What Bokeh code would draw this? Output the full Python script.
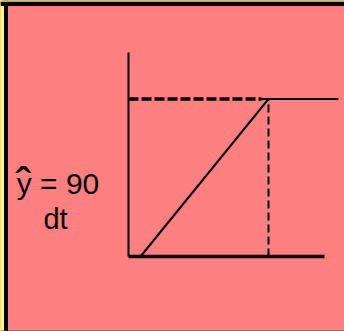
from bokeh.plotting import figure
from bokeh.models import Range1d, Span
from bokeh.core.properties import value
from bokeh.embed import file_html
from bokeh.resources import INLINE

# schematic values (time units, response units)
axis_t = [0.0, 19.6]          # horizontal axis extent
axis_v = [0.0, 20.4]          # vertical axis extent
ramp_t = [1.2, 14.0]          # ramp start / end time
ramp_v = [0.0, 15.75]         # ramp start / end level
level = 15.75                 # plateau level
guide_t = [0.0, 13.3]         # dashed guide to the level
plateau_t = [13.3, 21.0]      # plateau after the ramp
label_main = "y = 90"
label_hat = "ˆ"
label_sub = "dt"

X0, X1 = -12.8, 21.6
Y0, Y1 = -7.5, 25.6

p = figure(width=344, height=331, output_backend="svg", toolbar_location=None,
           x_range=Range1d(X0, X1), y_range=Range1d(Y0, Y1),
           min_border=0, background_fill_color="#FF8080",
           border_fill_color="#FF8080", outline_line_color=None)
p.axis.visible = False
p.grid.visible = False

# slide frame decorations
p.add_layout(Span(location=X0 + 0.2, dimension="height", line_color="#FFFF66", line_width=4))
p.add_layout(Span(location=X0 + 0.55, dimension="height", line_color="black", line_width=4))
p.add_layout(Span(location=Y1 - 0.05, dimension="width", line_color="#B0B050", line_width=2))
p.add_layout(Span(location=Y1 - 0.35, dimension="width", line_color="black", line_width=4))
p.add_layout(Span(location=Y0 + 0.05, dimension="width", line_color="#444444", line_width=1))

# axes
p.line(x=axis_t, y=[0, 0], line_color="black", line_width=3.5)
p.line(x=[0, 0], y=axis_v, line_color="black", line_width=2)
# dashed guide to plateau level
p.line(x=guide_t, y=[level, level], line_color="black", line_width=3.5, line_dash="10 3")
# plateau
p.line(x=plateau_t, y=[level, level], line_color="black", line_width=2)
# ramp
p.line(x=ramp_t, y=ramp_v, line_color="black", line_width=2)
# vertical dashed drop at ramp end
p.line(x=[ramp_t[1], ramp_t[1]], y=[0, level], line_color="black", line_width=2, line_dash="8 4")

# labels
p.text(x=[-7.05], y=[7.3], text=[label_main], text_align="center", text_baseline="alphabetic",
       text_font=value("Liberation Sans"), text_font_size="30px", text_color="black")
p.text(x=[-10.5], y=[7.2], text=[label_hat], text_align="center", text_baseline="alphabetic",
       text_font=value("Liberation Sans"), text_font_size="48px", text_color="black")
p.text(x=[-7.3], y=[3.8], text=[label_sub], text_align="center", text_baseline="alphabetic",
       text_font=value("Liberation Sans"), text_font_size="29px", text_color="black")

open("out.html", "w").write(file_html(p, INLINE))
